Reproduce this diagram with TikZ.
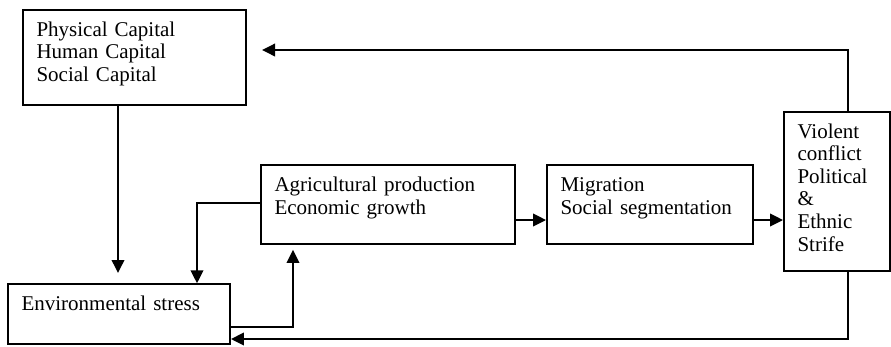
\documentclass[tikz,border=0pt]{standalone}
\usepackage{fontspec}
\setmainfont{Liberation Serif}
\usetikzlibrary{arrows.meta}

\tikzset{
  box/.style={draw, line width=1.9pt, inner xsep=13.5pt, inner ysep=0pt, align=left,
    text height=26.5pt, font=\fontsize{21pt}{22.6pt}\selectfont},
  arr/.style={-{Triangle[length=13pt,width=12.5pt]}, line width=1.9pt}
}

\begin{document}
\begin{tikzpicture}[x=1pt, y=-1pt]
    \useasboundingbox (0,0) rectangle (891,346);
    % Nodes
    \node (capital) [box, text width=196pt, text depth=69pt] at (134.5,57.5) {Physical Capital\\Human Capital\\Social Capital};
    \node (env) [box, text width=195pt, text depth=33pt] at (119,314) {Environmental stress};
    \node (agri) [box, text width=227pt, text depth=52.3pt] at (388,204.5) {Agricultural production\\Economic growth};
    \node (migration) [box, right of=agri, node distance=262pt, text width=179pt, text depth=52.3pt] {Migration\\Social segmentation};
    \node (conflict) [box, right of=migration, node distance=187pt, yshift=13pt, text width=79pt, text depth=133.3pt] {Violent\\conflict\\Political\\\&\\Ethnic\\Strife};
    \coordinate (capin) at (262,50);
    \coordinate (envin) at (118,273);

    % Arrows
    \draw [arr] ([xshift=11pt]conflict.north) |- (capin);
    \draw [arr] (capital.south -| envin) -- (envin);
    \draw [arr] ([yshift=1.5pt]agri.west) -| ([xshift=78pt]env.north);
    \draw [arr] ([yshift=-13pt]env.east) -| ([xshift=-95pt, yshift=-5pt]agri.south);
    \draw [arr] ([yshift=-15.5pt]agri.east) -- ([yshift=-15.5pt]migration.west);
    \draw [arr] ([yshift=-15.5pt]migration.east) -- ([yshift=-15.5pt]migration.east -| conflict.west);
    \draw [arr] ([xshift=11pt]conflict.south) |- ([yshift=-25pt]env.east);
\end{tikzpicture}
\end{document}
